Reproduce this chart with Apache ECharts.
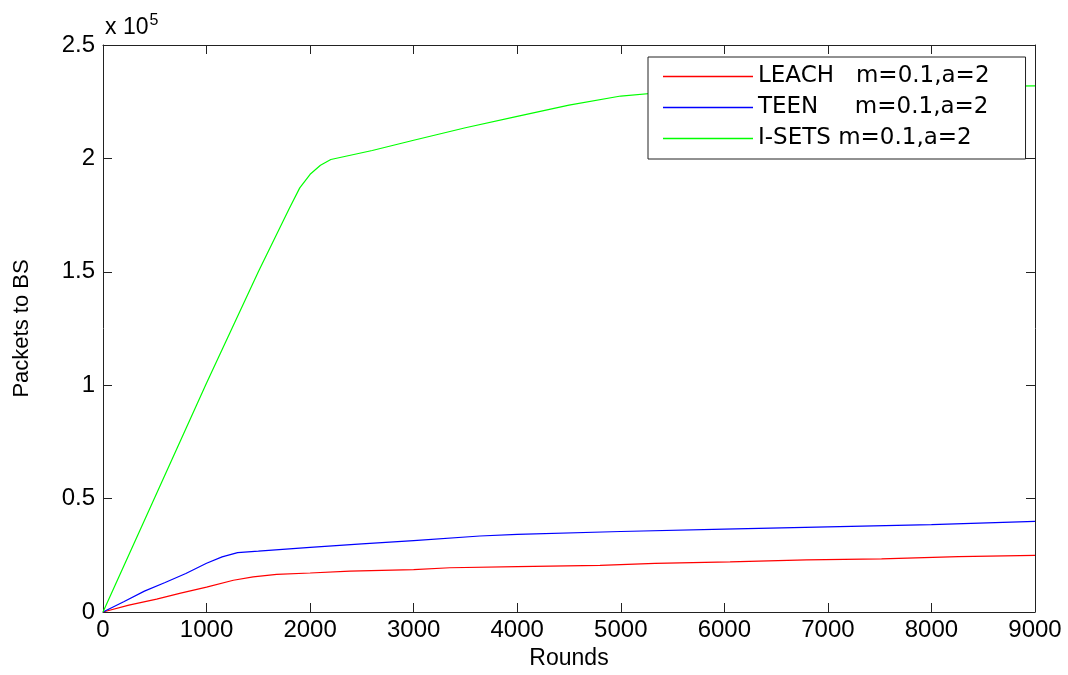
<!DOCTYPE html>
<html>
<head>
<meta charset="utf-8">
<script src="https://cdn.jsdelivr.net/npm/echarts@6/dist/echarts.min.js"></script>
<style>html,body{margin:0;padding:0;background:#fff}#c{width:1068px;height:675px}</style>
</head>
<body>
<div id="c"></div>
<script>
var seriesNames = ['LEACH   m=0.1,a=2', 'TEEN     m=0.1,a=2', 'I-SETS m=0.1,a=2'];
var leachRounds = [0, 250, 518, 750, 1000, 1259, 1450, 1677, 2000, 2385, 3000, 3350, 4000, 4800, 5330, 6055, 6795, 7518, 8260, 9000];
var leachPackets = [0, 3000, 5700, 8300, 11000, 14000, 15500, 16600, 17200, 18000, 18700, 19500, 20000, 20600, 21400, 22100, 23000, 23400, 24400, 25000];
var teenRounds = [0, 200, 400, 600, 800, 1000, 1150, 1300, 1500, 2000, 2500, 3000, 3640, 4000, 5000, 6000, 7000, 8000, 9000];
var teenPackets = [0, 4500, 9200, 13000, 17000, 21500, 24300, 26200, 26800, 28500, 30000, 31500, 33500, 34200, 35500, 36500, 37500, 38500, 40000];
var isetsRounds = [0, 500, 1000, 1500, 1800, 1900, 2000, 2100, 2200, 2400, 2600, 3000, 3500, 4000, 4500, 5000, 5500, 6000, 7000, 8000, 9000];
var isetsPackets = [0, 50500, 101000, 150000, 178000, 187000, 193000, 197000, 199500, 201500, 203500, 208000, 213500, 218500, 223500, 227500, 229500, 230500, 231000, 231500, 232000];
var xTicks = [0, 1000, 2000, 3000, 4000, 5000, 6000, 7000, 8000, 9000];
var yTickLabels = ['0', '0.5', '1', '1.5', '2', '2.5'];

function pairs(xs, ys) { return xs.map(function (x, i) { return [x, ys[i]]; }); }

var chart = echarts.init(document.getElementById('c'));
var font = 'Liberation Sans, Arial, sans-serif';
function axisCommon() {
  return {
    axisLine: { show: true, onZero: false, lineStyle: { color: '#222', width: 1 } },
    axisTick: { show: true, inside: true, length: 9, lineStyle: { color: '#222' } },
    splitLine: { show: false }
  };
}
chart.setOption({
  animation: false,
  backgroundColor: '#fff',
  grid: { left: 103, right: 33, top: 45, bottom: 57, containLabel: false },
  xAxis: [
    Object.assign({
      type: 'value', min: 0, max: 9000, interval: 1000, position: 'bottom',
      name: 'Rounds', nameLocation: 'middle', nameGap: 35,
      nameTextStyle: { fontFamily: font, fontSize: 23, color: '#000' },
      axisLabel: { fontFamily: font, fontSize: 24, color: '#000', margin: 6,
        formatter: function (v) { return xTicks.indexOf(v) >= 0 ? String(v) : ''; } }
    }, axisCommon()),
    Object.assign({
      type: 'value', min: 0, max: 9000, interval: 1000, position: 'top',
      axisLabel: { show: false }
    }, axisCommon())
  ],
  yAxis: [
    Object.assign({
      type: 'value', min: 0, max: 250000, interval: 50000, position: 'left',
      name: 'Packets to BS', nameLocation: 'middle', nameGap: 70,
      nameTextStyle: { fontFamily: font, fontSize: 22, color: '#000' },
      axisLabel: { fontFamily: font, fontSize: 24, color: '#000', margin: 8,
        formatter: function (v) { return yTickLabels[Math.round(v / 50000)]; } }
    }, axisCommon()),
    Object.assign({
      type: 'value', min: 0, max: 250000, interval: 50000, position: 'right',
      axisLabel: { show: false }
    }, axisCommon())
  ],
  legend: {
    orient: 'vertical', left: 648, top: 57,
    backgroundColor: '#fff', borderColor: '#222', borderWidth: 1,
    padding: [7, 36, 8, 15], itemGap: 6, itemWidth: 90, itemHeight: 1.3,
    icon: 'rect',
    textStyle: { fontFamily: 'DejaVu Sans, sans-serif', fontSize: 23, color: '#000', lineHeight: 25 },
    data: seriesNames
  },
  graphic: [{
    type: 'text', left: 105, top: 13,
    style: {
      text: 'x 10{s|5}', fontFamily: font, fontSize: 23, fill: '#000',
      rich: { s: { fontFamily: font, fontSize: 16, verticalAlign: 'top', padding: [0, 0, 14, 1] } }
    }
  }],
  series: [
    { name: seriesNames[0], type: 'line', data: pairs(leachRounds, leachPackets), symbol: 'none', lineStyle: { color: '#ff0000', width: 1.2 }, itemStyle: { color: '#ff0000' } },
    { name: seriesNames[1], type: 'line', data: pairs(teenRounds, teenPackets), symbol: 'none', lineStyle: { color: '#0000ff', width: 1.2 }, itemStyle: { color: '#0000ff' } },
    { name: seriesNames[2], type: 'line', data: pairs(isetsRounds, isetsPackets), symbol: 'none', lineStyle: { color: '#00ff00', width: 1.2 }, itemStyle: { color: '#00ff00' } }
  ]
});
</script>
</body>
</html>
